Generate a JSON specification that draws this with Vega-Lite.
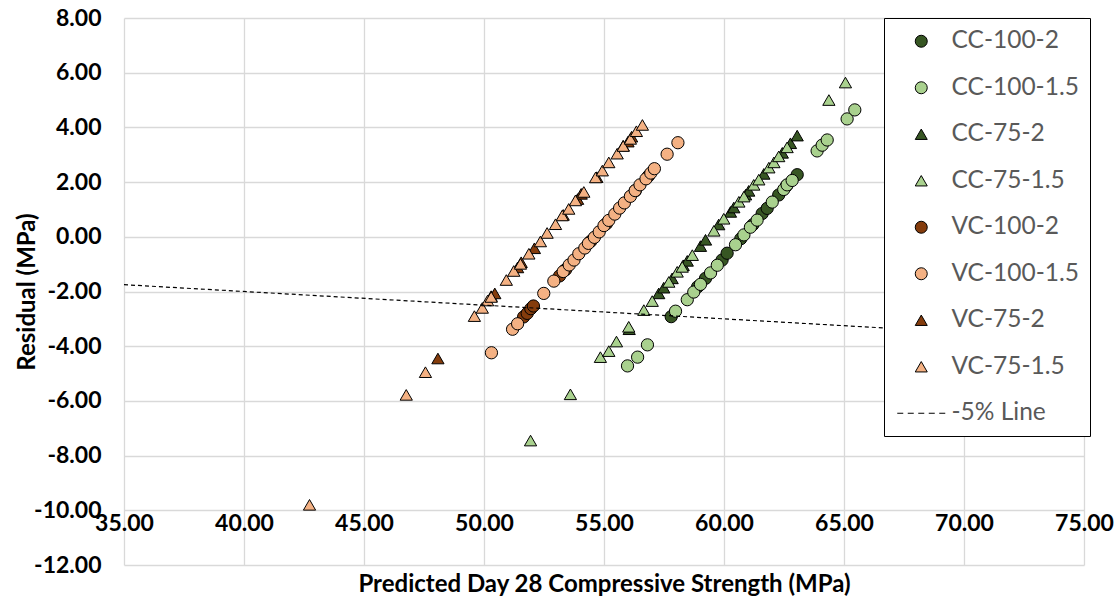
{
  "$schema": "https://vega.github.io/schema/vega-lite/v6.json",
  "width": 960,
  "height": 547,
  "autosize": {"type": "none"},
  "padding": {"left": 124, "top": 18, "right": 36, "bottom": 38},
  "background": "white",
  "config": {"view": {"stroke": null}},
  "datasets": {
    "pts": [
      {"s": "CC-100-2", "x": 57.8, "y": -2.92},
      {"s": "CC-100-2", "x": 58.9, "y": -1.83},
      {"s": "CC-100-2", "x": 59.23, "y": -1.52},
      {"s": "CC-100-2", "x": 59.92, "y": -0.85},
      {"s": "CC-100-2", "x": 60.13, "y": -0.6},
      {"s": "CC-100-2", "x": 60.7, "y": -0.07},
      {"s": "CC-100-2", "x": 61.2, "y": 0.44},
      {"s": "CC-100-2", "x": 61.59, "y": 0.85},
      {"s": "CC-100-2", "x": 61.8, "y": 1.04},
      {"s": "CC-100-2", "x": 62.28, "y": 1.53},
      {"s": "CC-100-2", "x": 62.6, "y": 1.86},
      {"s": "CC-100-2", "x": 63.05, "y": 2.27},
      {"s": "CC-100-1.5", "x": 55.98, "y": -4.72},
      {"s": "CC-100-1.5", "x": 56.4, "y": -4.4},
      {"s": "CC-100-1.5", "x": 56.81, "y": -3.95},
      {"s": "CC-100-1.5", "x": 57.98, "y": -2.72},
      {"s": "CC-100-1.5", "x": 58.47, "y": -2.3},
      {"s": "CC-100-1.5", "x": 58.74, "y": -2.02},
      {"s": "CC-100-1.5", "x": 59.02, "y": -1.74},
      {"s": "CC-100-1.5", "x": 59.44, "y": -1.32},
      {"s": "CC-100-1.5", "x": 59.72, "y": -1.04},
      {"s": "CC-100-1.5", "x": 60.48, "y": -0.29},
      {"s": "CC-100-1.5", "x": 60.83, "y": 0.07},
      {"s": "CC-100-1.5", "x": 61.1, "y": 0.35},
      {"s": "CC-100-1.5", "x": 61.38, "y": 0.61},
      {"s": "CC-100-1.5", "x": 62.01, "y": 1.27},
      {"s": "CC-100-1.5", "x": 62.49, "y": 1.73},
      {"s": "CC-100-1.5", "x": 62.63, "y": 1.9},
      {"s": "CC-100-1.5", "x": 62.84, "y": 2.06},
      {"s": "CC-100-1.5", "x": 63.88, "y": 3.14},
      {"s": "CC-100-1.5", "x": 64.09, "y": 3.35},
      {"s": "CC-100-1.5", "x": 64.3, "y": 3.54},
      {"s": "CC-100-1.5", "x": 65.13, "y": 4.31},
      {"s": "CC-100-1.5", "x": 65.45, "y": 4.64},
      {"s": "CC-75-2", "x": 56.05, "y": -3.38},
      {"s": "CC-75-2", "x": 57.28, "y": -2.07},
      {"s": "CC-75-2", "x": 57.49, "y": -1.86},
      {"s": "CC-75-2", "x": 57.84, "y": -1.52},
      {"s": "CC-75-2", "x": 58.3, "y": -1.04},
      {"s": "CC-75-2", "x": 58.47, "y": -0.88},
      {"s": "CC-75-2", "x": 59.02, "y": -0.34},
      {"s": "CC-75-2", "x": 59.23, "y": -0.11},
      {"s": "CC-75-2", "x": 59.78, "y": 0.45},
      {"s": "CC-75-2", "x": 60.27, "y": 0.91},
      {"s": "CC-75-2", "x": 60.41, "y": 1.07},
      {"s": "CC-75-2", "x": 60.9, "y": 1.54},
      {"s": "CC-75-2", "x": 61.03, "y": 1.68},
      {"s": "CC-75-2", "x": 61.66, "y": 2.3},
      {"s": "CC-75-2", "x": 62.43, "y": 3.07},
      {"s": "CC-75-2", "x": 62.77, "y": 3.42},
      {"s": "CC-75-2", "x": 63.05, "y": 3.7},
      {"s": "CC-75-1.5", "x": 51.94, "y": -7.45},
      {"s": "CC-75-1.5", "x": 53.6, "y": -5.76},
      {"s": "CC-75-1.5", "x": 54.85, "y": -4.4},
      {"s": "CC-75-1.5", "x": 55.2, "y": -4.18},
      {"s": "CC-75-1.5", "x": 55.52, "y": -3.83},
      {"s": "CC-75-1.5", "x": 56.03, "y": -3.29},
      {"s": "CC-75-1.5", "x": 56.66, "y": -2.68},
      {"s": "CC-75-1.5", "x": 57.01, "y": -2.35},
      {"s": "CC-75-1.5", "x": 57.7, "y": -1.65},
      {"s": "CC-75-1.5", "x": 58.05, "y": -1.28},
      {"s": "CC-75-1.5", "x": 58.26, "y": -1.1},
      {"s": "CC-75-1.5", "x": 58.68, "y": -0.67},
      {"s": "CC-75-1.5", "x": 59.58, "y": 0.22},
      {"s": "CC-75-1.5", "x": 59.99, "y": 0.66},
      {"s": "CC-75-1.5", "x": 60.62, "y": 1.28},
      {"s": "CC-75-1.5", "x": 60.83, "y": 1.47},
      {"s": "CC-75-1.5", "x": 61.24, "y": 1.9},
      {"s": "CC-75-1.5", "x": 61.45, "y": 2.09},
      {"s": "CC-75-1.5", "x": 61.87, "y": 2.53},
      {"s": "CC-75-1.5", "x": 62.08, "y": 2.72},
      {"s": "CC-75-1.5", "x": 62.28, "y": 2.94},
      {"s": "CC-75-1.5", "x": 62.63, "y": 3.27},
      {"s": "CC-75-1.5", "x": 64.37, "y": 5.0},
      {"s": "CC-75-1.5", "x": 65.06, "y": 5.64},
      {"s": "VC-100-2", "x": 51.65, "y": -2.93},
      {"s": "VC-100-2", "x": 51.8, "y": -2.8},
      {"s": "VC-100-2", "x": 51.95, "y": -2.63},
      {"s": "VC-100-2", "x": 52.06, "y": -2.53},
      {"s": "VC-100-2", "x": 53.15, "y": -1.43},
      {"s": "VC-100-2", "x": 53.4, "y": -1.2},
      {"s": "VC-100-2", "x": 54.45, "y": -0.16},
      {"s": "VC-100-2", "x": 55.1, "y": 0.48},
      {"s": "VC-100-2", "x": 56.3, "y": 1.68},
      {"s": "VC-100-2", "x": 56.85, "y": 2.22},
      {"s": "VC-100-1.5", "x": 50.31, "y": -4.24},
      {"s": "VC-100-1.5", "x": 51.19, "y": -3.38},
      {"s": "VC-100-1.5", "x": 51.4, "y": -3.18},
      {"s": "VC-100-1.5", "x": 52.49, "y": -2.07},
      {"s": "VC-100-1.5", "x": 52.91, "y": -1.62},
      {"s": "VC-100-1.5", "x": 53.3, "y": -1.27},
      {"s": "VC-100-1.5", "x": 53.55, "y": -1.03},
      {"s": "VC-100-1.5", "x": 53.75, "y": -0.85},
      {"s": "VC-100-1.5", "x": 53.95, "y": -0.62},
      {"s": "VC-100-1.5", "x": 54.2, "y": -0.41},
      {"s": "VC-100-1.5", "x": 54.35, "y": -0.24},
      {"s": "VC-100-1.5", "x": 54.6, "y": -0.02},
      {"s": "VC-100-1.5", "x": 54.8, "y": 0.18},
      {"s": "VC-100-1.5", "x": 55.0, "y": 0.41},
      {"s": "VC-100-1.5", "x": 55.2, "y": 0.6},
      {"s": "VC-100-1.5", "x": 55.45, "y": 0.83},
      {"s": "VC-100-1.5", "x": 55.65, "y": 1.05},
      {"s": "VC-100-1.5", "x": 55.85, "y": 1.24},
      {"s": "VC-100-1.5", "x": 56.1, "y": 1.48},
      {"s": "VC-100-1.5", "x": 56.3, "y": 1.69},
      {"s": "VC-100-1.5", "x": 56.5, "y": 1.9},
      {"s": "VC-100-1.5", "x": 56.75, "y": 2.12},
      {"s": "VC-100-1.5", "x": 56.95, "y": 2.33},
      {"s": "VC-100-1.5", "x": 57.1, "y": 2.49},
      {"s": "VC-100-1.5", "x": 57.63, "y": 3.02},
      {"s": "VC-100-1.5", "x": 58.08, "y": 3.44},
      {"s": "VC-75-2", "x": 48.08, "y": -4.45},
      {"s": "VC-75-2", "x": 50.3, "y": -2.17},
      {"s": "VC-75-2", "x": 50.45, "y": -2.07},
      {"s": "VC-75-2", "x": 51.4, "y": -1.12},
      {"s": "VC-75-2", "x": 51.55, "y": -0.93},
      {"s": "VC-75-2", "x": 52.1, "y": -0.42},
      {"s": "VC-75-2", "x": 53.3, "y": 0.8},
      {"s": "VC-75-2", "x": 53.9, "y": 1.38},
      {"s": "VC-75-2", "x": 54.05, "y": 1.57},
      {"s": "VC-75-2", "x": 54.7, "y": 2.18},
      {"s": "VC-75-2", "x": 55.8, "y": 3.33},
      {"s": "VC-75-2", "x": 56.0, "y": 3.48},
      {"s": "VC-75-2", "x": 56.15, "y": 3.66},
      {"s": "VC-75-1.5", "x": 42.73, "y": -9.8},
      {"s": "VC-75-1.5", "x": 46.76, "y": -5.78},
      {"s": "VC-75-1.5", "x": 47.56, "y": -4.95},
      {"s": "VC-75-1.5", "x": 49.6, "y": -2.9},
      {"s": "VC-75-1.5", "x": 49.93, "y": -2.6},
      {"s": "VC-75-1.5", "x": 50.15, "y": -2.33},
      {"s": "VC-75-1.5", "x": 50.3, "y": -2.2},
      {"s": "VC-75-1.5", "x": 50.93, "y": -1.58},
      {"s": "VC-75-1.5", "x": 51.24, "y": -1.25},
      {"s": "VC-75-1.5", "x": 51.52, "y": -0.99},
      {"s": "VC-75-1.5", "x": 51.87, "y": -0.62},
      {"s": "VC-75-1.5", "x": 52.35, "y": -0.17},
      {"s": "VC-75-1.5", "x": 52.63, "y": 0.14},
      {"s": "VC-75-1.5", "x": 52.98, "y": 0.46},
      {"s": "VC-75-1.5", "x": 53.26, "y": 0.78},
      {"s": "VC-75-1.5", "x": 53.53, "y": 1.02},
      {"s": "VC-75-1.5", "x": 53.81, "y": 1.33},
      {"s": "VC-75-1.5", "x": 54.16, "y": 1.64},
      {"s": "VC-75-1.5", "x": 54.65, "y": 2.17},
      {"s": "VC-75-1.5", "x": 54.93, "y": 2.42},
      {"s": "VC-75-1.5", "x": 55.2, "y": 2.72},
      {"s": "VC-75-1.5", "x": 55.55, "y": 3.04},
      {"s": "VC-75-1.5", "x": 55.8, "y": 3.32},
      {"s": "VC-75-1.5", "x": 56.1, "y": 3.58},
      {"s": "VC-75-1.5", "x": 56.35, "y": 3.86},
      {"s": "VC-75-1.5", "x": 56.6, "y": 4.09}
    ],
    "line": [
      {"x": 35, "y": -1.75},
      {"x": 75, "y": -3.75}
    ]
  },
  "layer": [
    {
      "mark": {"type": "rule", "color": "#bfbfbf", "strokeWidth": 1.3},
      "encoding": {"y": {"datum": -10, "type": "quantitative"}}
    },
    {
      "data": {"name": "pts"},
      "mark": {"type": "point", "filled": true, "opacity": 1, "stroke": "black", "strokeWidth": 1, "size": 150},
      "encoding": {
        "x": {
          "field": "x", "type": "quantitative",
          "scale": {"domain": [35, 75], "nice": false, "zero": false},
          "axis": {
            "title": "Predicted Day 28 Compressive Strength (MPa)",
            "values": [35, 40, 45, 50, 55, 60, 65, 70, 75],
            "labelExpr": "(datum.value < 0 ? '-' : '') + format(abs(datum.value), '.2f')",
            "grid": true, "gridColor": "#d9d9d9", "gridWidth": 1.3,
            "domain": false, "ticks": false, "tickSize": 0,
            "labelPadding": -42, "labelBaseline": "middle",
            "labelFont": "Lato", "labelFontWeight": "bold", "labelFontSize": 23, "labelColor": "black",
            "labelFlush": false, "labelOverlap": false,
            "titleFont": "Lato", "titleFontWeight": "bold", "titleFontSize": 24, "titleColor": "black",
            "titlePadding": 7
          }
        },
        "y": {
          "field": "y", "type": "quantitative",
          "scale": {"domain": [-12, 8], "nice": false, "zero": false},
          "axis": {
            "title": "Residual (MPa)",
            "values": [-12, -10, -8, -6, -4, -2, 0, 2, 4, 6, 8],
            "labelExpr": "(datum.value < 0 ? '-' : '') + format(abs(datum.value), '.2f')",
            "grid": true, "gridColor": "#d9d9d9", "gridWidth": 1.3,
            "domain": false, "ticks": false, "tickSize": 0,
            "labelPadding": 23,
            "labelFont": "Lato", "labelFontWeight": "bold", "labelFontSize": 23, "labelColor": "black",
            "labelOverlap": false,
            "titleFont": "Lato", "titleFontWeight": "bold", "titleFontSize": 24, "titleColor": "black",
            "titlePadding": -6
          }
        },
        "color": {
          "field": "s", "type": "nominal",
          "scale": {
            "domain": ["CC-100-2", "CC-100-1.5", "CC-75-2", "CC-75-1.5", "VC-100-2", "VC-100-1.5", "VC-75-2", "VC-75-1.5", "-5% Line"],
            "range": ["#375623", "#a9d18e", "#375623", "#a9d18e", "#843c0c", "#f4b183", "#843c0c", "#f4b183", "black"]
          },
          "legend": {
            "orient": "none", "legendX": 760, "legendY": 0,
            "title": null, "padding": 11,
            "fillColor": "white", "strokeColor": "black",
            "rowPadding": 21.5,
            "symbolSize": 144, "symbolOffset": 14, "labelOffset": 18,
            "symbolStrokeColor": "black", "symbolStrokeWidth": 1,
            "labelFont": "Lato", "labelFontSize": 24.5, "labelColor": "#595959", "labelLimit": 300,
            "encode": {
              "symbols": {
                "update": {
                  "stroke": {"value": "black"},
                  "strokeWidth": {"value": 1},
                  "opacity": {"value": 1}
                }
              }
            }
          }
        },
        "shape": {
          "field": "s", "type": "nominal",
          "scale": {
            "domain": ["CC-100-2", "CC-100-1.5", "CC-75-2", "CC-75-1.5", "VC-100-2", "VC-100-1.5", "VC-75-2", "VC-75-1.5", "-5% Line"],
            "range": ["circle", "circle", "triangle-up", "triangle-up", "circle", "circle", "triangle-up", "triangle-up", "M-4,0L-3,0M-2.25,0L-1.25,0M-0.5,0L0.5,0M1.25,0L2.25,0M3,0L4,0"]
          }
        }
      }
    },
    {
      "data": {"name": "line"},
      "mark": {"type": "line", "color": "black", "strokeWidth": 1.2, "strokeDash": [4, 3]},
      "encoding": {
        "x": {"field": "x", "type": "quantitative"},
        "y": {"field": "y", "type": "quantitative"}
      }
    }
  ]
}
